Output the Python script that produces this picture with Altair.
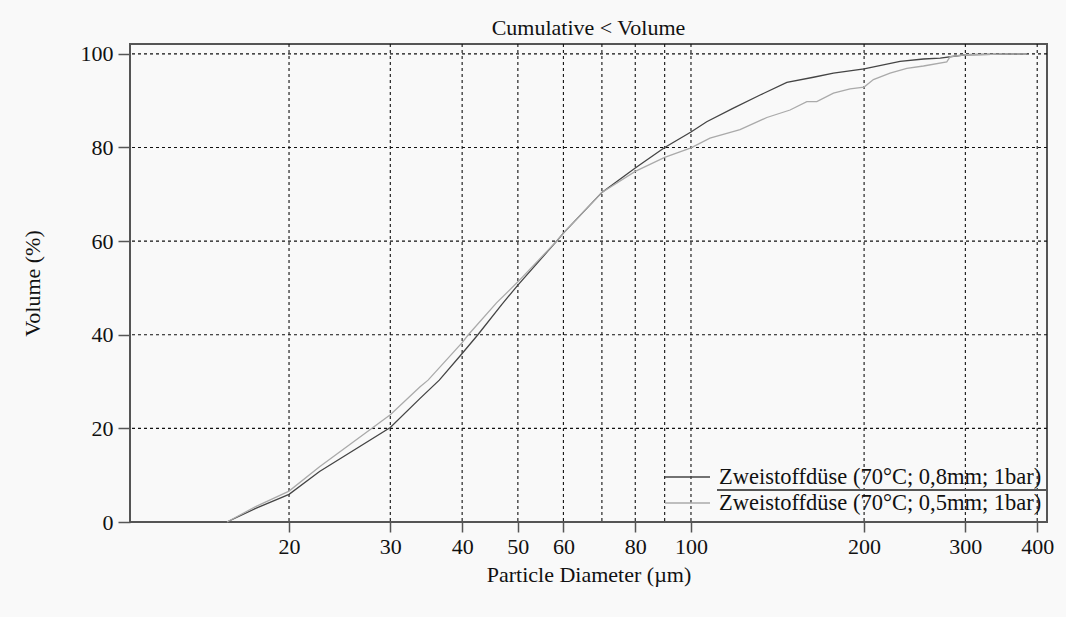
import altair as alt
import pandas as pd

# Cumulative volume distributions (laser diffraction), two-fluid nozzle runs
SERIES_08 = "Zweistoffdüse (70°C; 0,8mm; 1bar)"
SERIES_05 = "Zweistoffdüse (70°C; 0,5mm; 1bar)"

diam_08 = [15.6, 17.5, 20, 22.6, 30, 33.8, 36.5, 40, 42.6, 46.9, 50, 58.4, 60, 70, 80,
           90, 100, 106.5, 118.5, 131.9, 146.8, 163.3, 176.9, 200, 231, 253.7, 271.3,
           300, 384]
vol_08 = [0, 2.9, 5.9, 10.8, 20.2, 26.4, 30.3, 36.0, 40.0, 46.5, 50.6, 60.0, 61.7, 70.4,
          75.6, 80.0, 83.3, 85.5, 88.4, 91.2, 93.9, 95.0, 95.9, 96.8, 98.4, 98.9, 99.1,
          99.8, 100]

diam_05 = [15.6, 17.5, 20, 22.6, 30, 33.8, 34.9, 40, 41.0, 45.9, 50, 58.4, 60, 70, 80,
           90, 100, 107.9, 121.7, 135.5, 148.7, 159, 165.5, 176.9, 189.1, 200, 207.6,
           221.9, 237.3, 253.7, 278.5, 282.3, 300, 384]
vol_05 = [0, 3.3, 6.6, 11.8, 22.9, 28.9, 30.3, 38.3, 40.0, 46.8, 51.3, 60.0, 61.7, 70.4,
          74.9, 77.9, 79.9, 82.0, 83.8, 86.4, 88.0, 89.8, 89.8, 91.6, 92.5, 92.9, 94.5,
          95.9, 96.9, 97.4, 98.3, 99.4, 99.8, 100]

x_grid = [20, 30, 40, 50, 60, 70, 80, 90, 100, 200, 300, 400]
x_labels = [20, 30, 40, 50, 60, 80, 100, 200, 300, 400]
y_grid = [20, 40, 60, 80, 100]
y_ticks = [0, 20, 40, 60, 80, 100]

FONT = "Liberation Serif"
FS = 22

curves = pd.concat([
    pd.DataFrame({"d": diam_08, "v": vol_08, "s": SERIES_08, "o": range(len(diam_08))}),
    pd.DataFrame({"d": diam_05, "v": vol_05, "s": SERIES_05, "o": range(len(diam_05))}),
])

xscale = alt.Scale(type="log", domain=[10.58, 416], nice=False)
yscale = alt.Scale(domain=[0, 102.1], nice=False, zero=False)

# the same axis definitions are handed to every layer that uses the channel
x_axis = alt.Axis(values=x_labels, format="d", title="Particle Diameter (µm)",
                  grid=False, domain=False, tickSize=10, tickWidth=1.5,
                  tickColor="#555555", labelPadding=4, titlePadding=7,
                  labelFlush=False)
y_axis = alt.Axis(values=y_ticks, format="d", title="Volume (%)",
                  grid=False, domain=False, tickSize=12, tickWidth=1.5,
                  tickColor="#555555", labelPadding=5, titlePadding=36)

vgrid = alt.Chart(pd.DataFrame({"d": x_grid})).mark_rule(
    color="#111111", strokeWidth=1.1, strokeDash=[3, 3]
).encode(x=alt.X("d:Q", scale=xscale, axis=x_axis))

hgrid = alt.Chart(pd.DataFrame({"v": y_grid})).mark_rule(
    color="#111111", strokeWidth=1.1, strokeDash=[3, 3]
).encode(y=alt.Y("v:Q", scale=yscale, axis=y_axis))

lines = alt.Chart(curves).mark_line(strokeWidth=1.3).encode(
    x=alt.X("d:Q", scale=xscale, axis=x_axis),
    y=alt.Y("v:Q", scale=yscale, axis=y_axis),
    color=alt.Color("s:N",
                    scale=alt.Scale(domain=[SERIES_08, SERIES_05],
                                    range=["#444444", "#aaaaaa"]),
                    legend=alt.Legend(orient="none", legendX=534, legendY=420,
                                      title=None, symbolType="stroke", symbolSize=2025,
                                      symbolStrokeWidth=1.5, clipHeight=26, rowPadding=0,
                                      padding=0, labelOffset=8, labelLimit=600,
                                      labelFont=FONT, labelFontSize=FS + 0.5,
                                      labelColor="#111111")),
    order="o:Q",
)

# underline beneath the first legend entry
underline = alt.Chart(pd.DataFrame({"k": [0]})).mark_rule(
    color="#555555", strokeWidth=2
).encode(x=alt.value(587), x2=alt.value(917), y=alt.value(446))

chart = alt.layer(vgrid, hgrid, lines, underline).properties(
    width=917,
    height=478,
    padding={"left": 130, "top": 44, "right": 19, "bottom": 95},
    autosize=alt.AutoSizeParams(type="none"),
    background="#f9f9f9",
    title=alt.TitleParams("Cumulative < Volume", font=FONT, fontSize=FS,
                          fontWeight="normal", color="#111111", frame="group",
                          anchor="middle", offset=3),
).configure_view(
    stroke="#555555", strokeWidth=2, fill="#f9f9f9"
).configure_axis(
    labelFont=FONT, labelFontSize=FS, labelColor="#111111",
    titleFont=FONT, titleFontSize=FS, titleFontWeight="normal", titleColor="#111111",
)

chart.save("out.html", embed_options={"renderer": "svg", "actions": False})
